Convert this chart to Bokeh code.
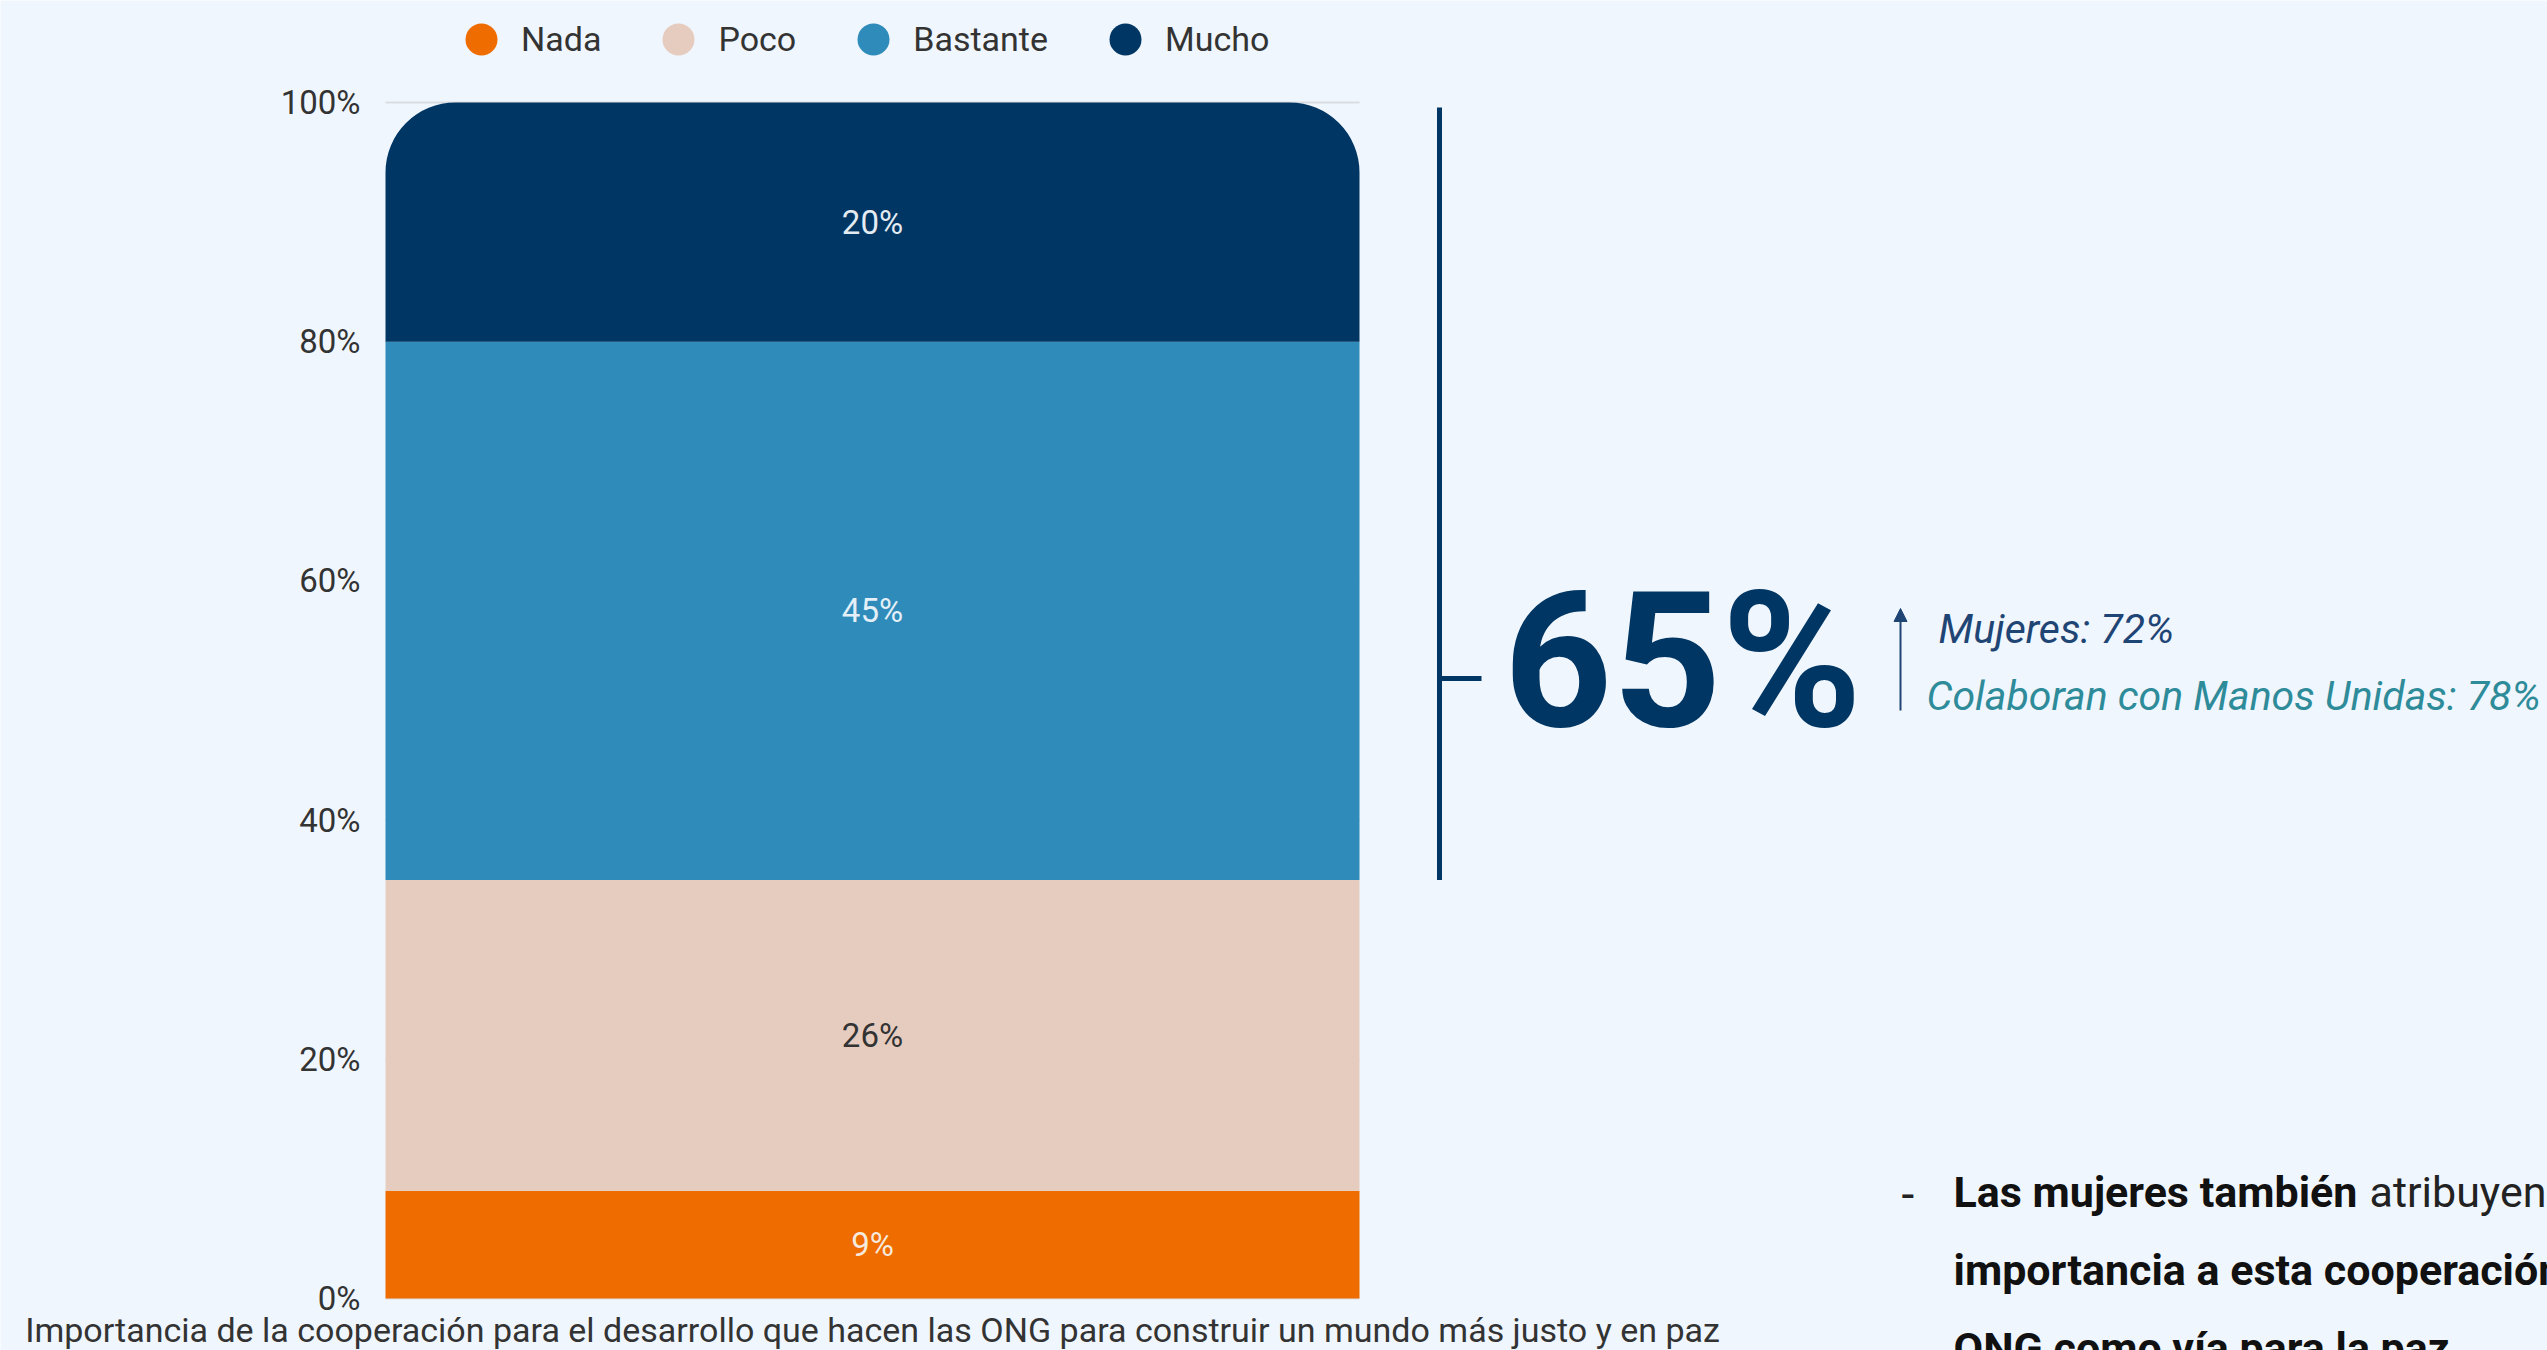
from bokeh.plotting import figure
from bokeh.models import (Range1d, Legend, LegendItem, Label, Arrow,
                          NormalHead, ColumnDataSource)
from bokeh.models.glyphs import VBar
from bokeh.core.properties import value
from bokeh.embed import file_html
from bokeh.resources import INLINE

# ---------------- data ----------------
categories = ["Nada", "Poco", "Bastante", "Mucho"]
percentages = [9, 26, 45, 20]
colors = ["#EF6C00", "#E6CCBF", "#2E8BBA", "#003663"]
label_colors = ["#F6E9DE", "#333333", "#E4EFF7", "#E4EBF2"]
tick_values = [0, 20, 40, 60, 80, 100]
tick_labels = ["0%", "20%", "40%", "60%", "80%", "100%"]
caption = "Importancia de la cooperación para el desarrollo que hacen las ONG para construir un mundo más justo y en paz"
highlight = ["Bastante", "Mucho"]
subgroups = ["Mujeres: 72%", "Colaboran con Manos Unidas: 78%"]
bullet_bold_1 = "Las mujeres también"
bullet_regular_1 = "atribuyen"
bullet_bold_2 = "importancia a esta cooperación"
bullet_bold_3 = "ONG como vía para la paz"

BG = "#F0F6FD"
FONT = "Roboto"
NAVY = "#003663"

W, H = 2547, 1350
# layout of the bar area on the canvas (pixels)
BAR_LEFT, BAR_RIGHT = 385, 1359
BASE_Y, TOP_Y = 1298, 102          # canvas y of 0 % and 100 %
KX = BAR_RIGHT - BAR_LEFT          # px per x unit
KY = (BASE_Y - TOP_Y) / 100.0      # px per percentage point

p = figure(width=W, height=H, output_backend="svg", toolbar_location=None,
           x_range=Range1d(-BAR_LEFT / KX, (W - BAR_LEFT) / KX),
           y_range=Range1d(-(H - BASE_Y) / KY, BASE_Y / KY),
           min_border=0, background_fill_color=BG, border_fill_color=BG)
p.outline_line_color = None
p.axis.visible = False
p.grid.visible = False


def sy(canvas_y):
    """canvas y (from top) -> screen units (from bottom of frame)"""
    return H - canvas_y


def label(x, baseline_y, text, size_px, color, style="normal", x_units="screen", align="left"):
    # text box bottom sits about one descent (0.24 em) under the baseline
    p.add_layout(Label(x=x, y=sy(baseline_y + 0.24 * size_px), x_units=x_units,
                       y_units="screen", text=text,
                       text_align=align, text_baseline="bottom",
                       text_font=FONT, text_font_style=style,
                       text_font_size=f"{size_px}px", text_color=color))


# light horizontal gridlines across the bar
p.segment(x0=[0] * len(tick_values), x1=[1] * len(tick_values),
          y0=tick_values, y1=tick_values, line_color="#D9DDE3", line_width=2,
          level="underlay")

# y tick labels
p.text(x=[0] * len(tick_values), y=tick_values, text=tick_labels,
       x_offset=-25, text_align="right", text_baseline="middle",
       text_font=value(FONT), text_font_size="33px", text_color="#333333")

# stacked bars
bottoms = []
acc = 0
for v in percentages:
    bottoms.append(acc)
    acc += v
tops = [b + v for b, v in zip(bottoms, percentages)]

has_radius = "border_radius" in VBar.properties()
for i, cat in enumerate(categories):
    src = ColumnDataSource(dict(x=[0.5], bottom=[bottoms[i]], top=[tops[i]]))
    kw = {}
    if i == len(categories) - 1 and has_radius:
        kw["border_radius"] = (70, 70, 0, 0)
    p.vbar(x="x", width=1, bottom="bottom", top="top", source=src,
           fill_color=colors[i], line_color=None, **kw)

lab_src = ColumnDataSource(dict(
    x=[0.5] * len(categories),
    y=[(b + t) / 2 for b, t in zip(bottoms, tops)],
    text=[f"{v}%" for v in percentages],
    color=label_colors))
p.text(x="x", y="y", text="text", source=lab_src, text_color="color",
       text_align="center", text_baseline="middle",
       text_font=value(FONT), text_font_size="33px")

# caption under the bar (centred on the bar)
label(0.5, 1341, caption, 34, "#333333", x_units="data", align="center")

# legend with circle markers (one hidden point each, outside the view)
items = []
for cat, c in zip(categories, colors):
    r = p.scatter(x=[-50], y=[-50], marker="circle", size=30, fill_color=c, line_color=None)
    items.append(LegendItem(label=cat, renderers=[r]))
legend = Legend(items=items, orientation="horizontal",
                location=(441, sy(79)),
                glyph_width=80, glyph_height=80, label_standoff=0, spacing=37,
                padding=0, margin=0, background_fill_alpha=0, border_line_color=None,
                label_text_font=FONT, label_text_font_size="34px",
                label_text_color="#333333")
p.add_layout(legend, "center")

# bracket for Bastante + Mucho
hl_sum = sum(v for c, v in zip(categories, percentages) if c in highlight)
hl_bottom = min(bottoms[categories.index(c)] for c in highlight)
hl_top = max(tops[categories.index(c)] for c in highlight)
BX = 1439
p.add_layout(Arrow(start=None, end=None,
                   x_start=BX, y_start=sy(BASE_Y - hl_bottom * KY),
                   x_end=BX, y_end=sy(BASE_Y - hl_top * KY + 5),
                   start_units="screen", end_units="screen",
                   line_color=NAVY, line_width=5))
p.add_layout(Arrow(start=None, end=None, x_start=BX - 2, y_start=sy(678),
                   x_end=BX + 42, y_end=sy(678),
                   start_units="screen", end_units="screen",
                   line_color=NAVY, line_width=5))

label(1503, 726, f"{hl_sum}%", 190, NAVY, style="bold")

p.add_layout(Arrow(end=NormalHead(size=13, fill_color="#1F4575", line_color="#1F4575"),
                   start=None, x_start=1900, y_start=sy(710), x_end=1900, y_end=sy(608),
                   start_units="screen", end_units="screen",
                   line_color="#1F4575", line_width=2))
label(1938, 643, subgroups[0], 41, "#1F4575", style="italic")
label(1926, 710, subgroups[1], 41, "#2E8B99", style="italic")

# bullet text (bottom right)
label(1901, 1198, "-", 46, "#222222")
label(1953, 1206, bullet_bold_1, 43, "#111111", style="bold")
label(2369, 1206, bullet_regular_1, 43, "#222222")
label(1953, 1284, bullet_bold_2, 43, "#111111", style="bold")
label(1953, 1362, bullet_bold_3, 43, "#111111", style="bold")

open("out.html", "w").write(file_html(p, INLINE))
